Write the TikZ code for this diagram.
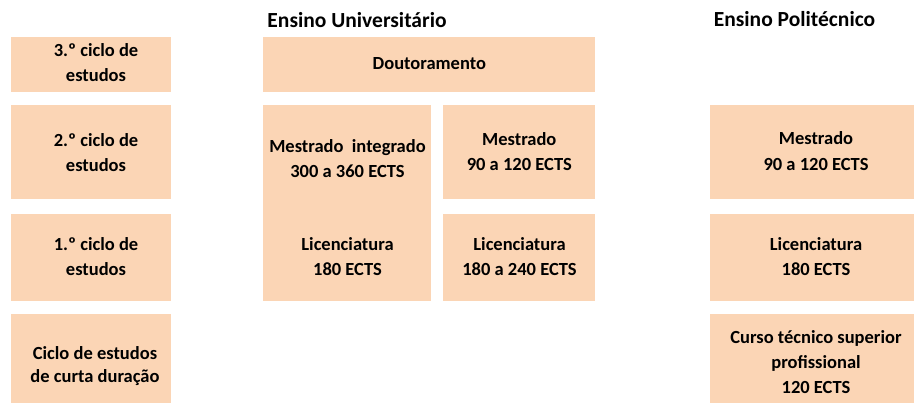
\documentclass[tikz,border=0pt]{standalone}
\usepackage{fontspec}
\setmainfont{Carlito}
\definecolor{peach}{HTML}{FBD5B5}
\begin{document}
\begin{tikzpicture}[x=1pt,y=-1pt,
  cell/.style={fill=peach, draw=none, inner sep=0pt, anchor=north west},
  txt/.style={inner sep=0pt, anchor=base, align=center, font=\bfseries\fontsize{18.5}{25}\selectfont},
  head/.style={inner sep=0pt, anchor=base, font=\bfseries\fontsize{21.5}{26}\selectfont}]
\useasboundingbox (0,0) rectangle (914,404);
% boxes
\node[cell, minimum width=160pt, minimum height=55pt] (c3) at (11,37) {};
\node[cell, minimum width=160pt, minimum height=94pt] (c2) at (11,105) {};
\node[cell, minimum width=160pt, minimum height=87pt] (c1) at (11,214) {};
\node[cell, minimum width=160pt, minimum height=89pt] (cc) at (11,314) {};
\node[cell, minimum width=332pt, minimum height=55pt] (dout) at (263,37) {};
\node[cell, minimum width=168pt, minimum height=196pt] (mi) at (263,105) {};
\node[cell, minimum width=152pt, minimum height=94pt] (mu) at (443,105) {};
\node[cell, minimum width=152pt, minimum height=87pt] (lu) at (443,214) {};
\node[cell, minimum width=204pt, minimum height=94pt] (mp) at (710,105) {};
\node[cell, minimum width=204pt, minimum height=87pt] (lp) at (710,214) {};
\node[cell, minimum width=204pt, minimum height=89pt] (ctp) at (710,314) {};
% headers
\node[head] (hu) at (357,28) {Ensino Universitário};
\node[head] (hp) at (794.5,27) {Ensino Politécnico};
% texts (anchored at the baseline of the last line)
\node[txt] (t3) at (96,81.7) {3.º ciclo de\\estudos};
\node[txt] (t2) at (96,171.7) {2.º ciclo de\\estudos};
\node[txt] (t1) at (96,275) {1.º ciclo de\\estudos};
\node[txt, font=\bfseries\fontsize{18.5}{23}\selectfont] (tc) at (95,382) {Ciclo de estudos\\de curta duração};
\node[txt] (tdout) at (429.3,69.3) {Doutoramento};
\node[txt] (tmi) at (347.5,177.3) {Mestrado\ \ integrado\\300 a 360 ECTS};
\node[txt] (tli) at (347.5,275) {Licenciatura\\180 ECTS};
\node[txt] (tmu) at (519.3,171) {Mestrado\\90 a 120 ECTS};
\node[txt] (tlu) at (519.5,275) {Licenciatura\\180 a 240 ECTS};
\node[txt] (tmp) at (816,170) {Mestrado\\90 a 120 ECTS};
\node[txt] (tlp) at (816,275) {Licenciatura\\180 ECTS};
\node[txt] (tcp) at (816,393) {Curso técnico superior\\profissional\\120 ECTS};
\end{tikzpicture}
\end{document}
